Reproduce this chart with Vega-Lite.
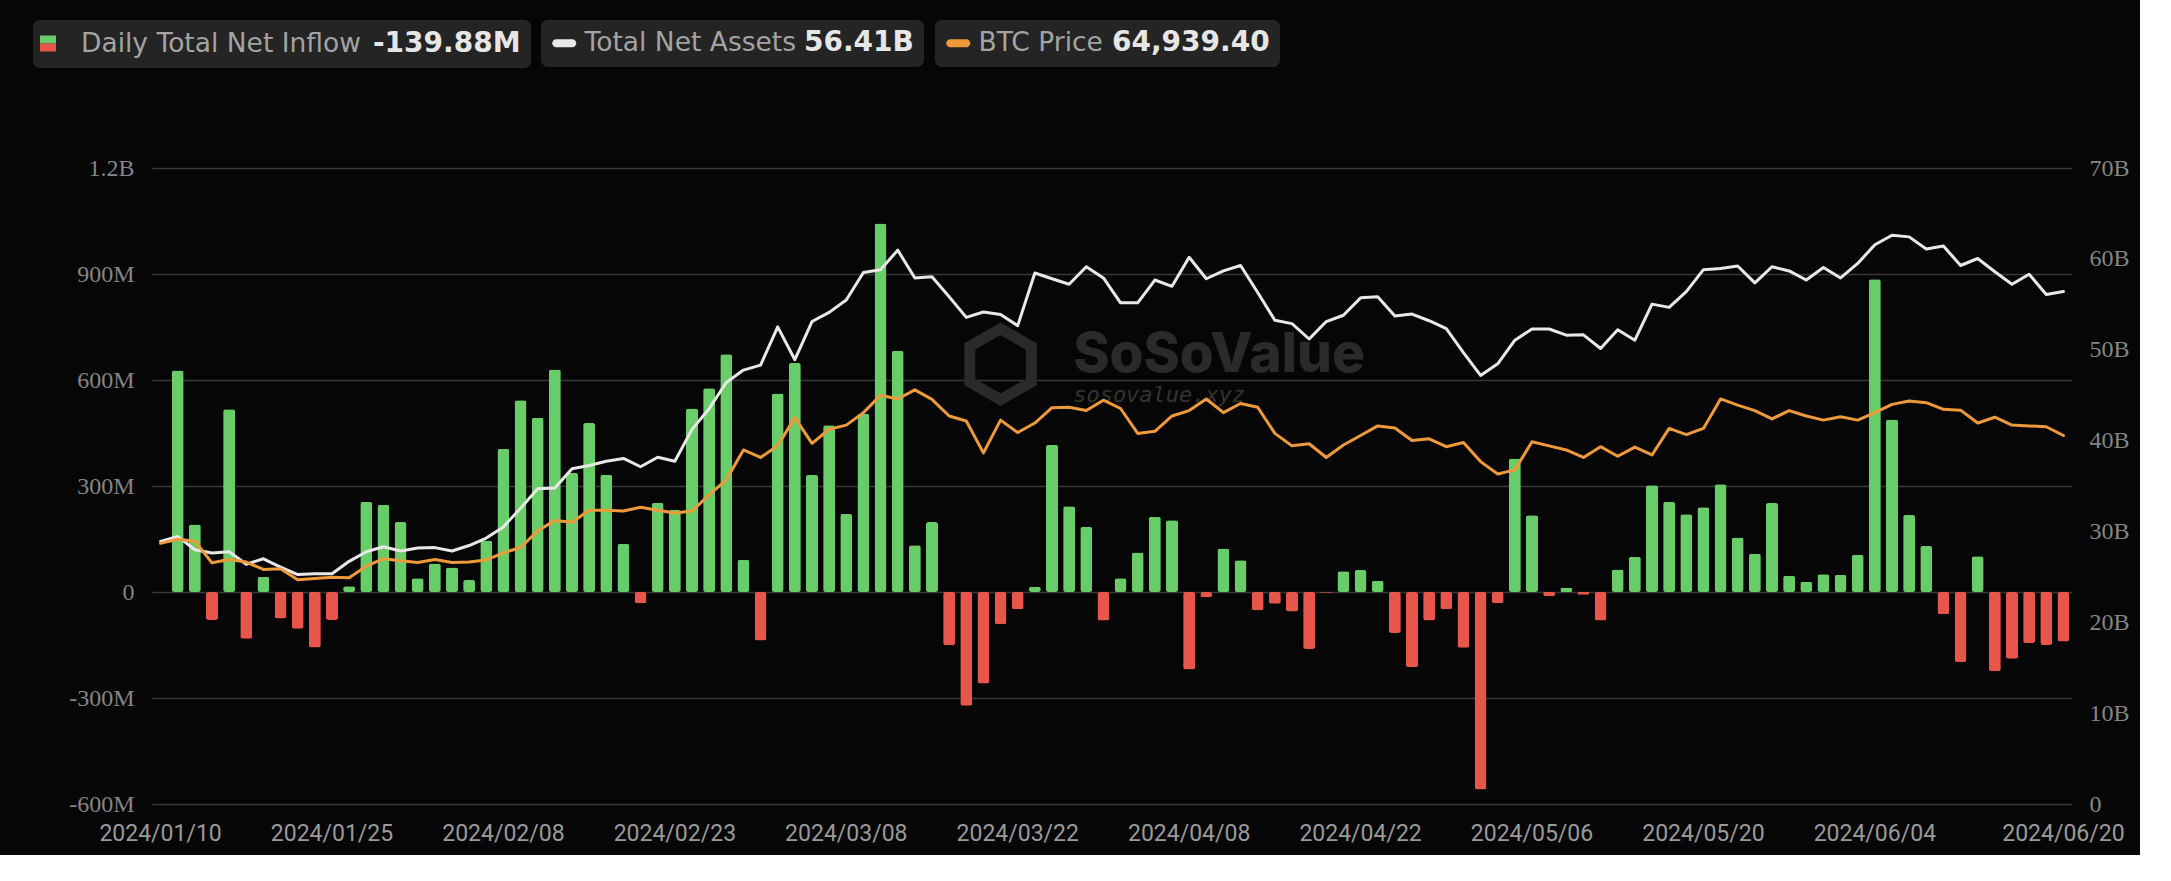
{
  "$schema": "https://vega.github.io/schema/vega-lite/v6.json",
  "width": 1920,
  "height": 636,
  "autosize": {"type": "pad"},
  "padding": {"left": 33, "top": 20, "right": 10, "bottom": 10},
  "background": "#060606",
  "config": {
    "view": {"stroke": null},
    "axis": {"domain": false, "ticks": false, "tickSize": 0, "title": null}
  },
  "data": {
    "values": [
      {"d": "2024/01/10", "flow": null, "tna": 28.90, "btc": 46604},
      {"d": "2024/01/11", "flow": 627, "tna": 29.45, "btc": 47309},
      {"d": "2024/01/12", "flow": 191, "tna": 27.99, "btc": 46957},
      {"d": "2024/01/16", "flow": -79, "tna": 27.62, "btc": 43289},
      {"d": "2024/01/17", "flow": 517, "tna": 27.76, "btc": 43854},
      {"d": "2024/01/18", "flow": -132, "tna": 26.39, "btc": 43430},
      {"d": "2024/01/19", "flow": 43, "tna": 26.99, "btc": 42161},
      {"d": "2024/01/22", "flow": -75, "tna": 26.07, "btc": 42302},
      {"d": "2024/01/23", "flow": -104, "tna": 25.25, "btc": 40398},
      {"d": "2024/01/24", "flow": -157, "tna": 25.34, "btc": 40610},
      {"d": "2024/01/25", "flow": -79, "tna": 25.34, "btc": 40821},
      {"d": "2024/01/26", "flow": 16, "tna": 26.71, "btc": 40751},
      {"d": "2024/01/29", "flow": 255, "tna": 27.76, "btc": 42725},
      {"d": "2024/01/30", "flow": 247, "tna": 28.31, "btc": 43995},
      {"d": "2024/01/31", "flow": 198, "tna": 27.85, "btc": 43642},
      {"d": "2024/02/01", "flow": 39, "tna": 28.17, "btc": 43360},
      {"d": "2024/02/02", "flow": 81, "tna": 28.22, "btc": 43854},
      {"d": "2024/02/05", "flow": 69, "tna": 27.85, "btc": 43360},
      {"d": "2024/02/06", "flow": 34, "tna": 28.45, "btc": 43430},
      {"d": "2024/02/07", "flow": 146, "tna": 29.27, "btc": 43783},
      {"d": "2024/02/08", "flow": 405, "tna": 30.50, "btc": 44982},
      {"d": "2024/02/09", "flow": 543, "tna": 32.56, "btc": 45899},
      {"d": "2024/02/12", "flow": 493, "tna": 34.70, "btc": 48719},
      {"d": "2024/02/13", "flow": 630, "tna": 34.79, "btc": 50482},
      {"d": "2024/02/14", "flow": 337, "tna": 36.89, "btc": 50200},
      {"d": "2024/02/15", "flow": 478, "tna": 37.26, "btc": 52245},
      {"d": "2024/02/16", "flow": 332, "tna": 37.72, "btc": 52245},
      {"d": "2024/02/20", "flow": 136, "tna": 38.03, "btc": 52104},
      {"d": "2024/02/21", "flow": -32, "tna": 37.12, "btc": 52739},
      {"d": "2024/02/22", "flow": 252, "tna": 38.17, "btc": 52245},
      {"d": "2024/02/23", "flow": 232, "tna": 37.72, "btc": 51752},
      {"d": "2024/02/26", "flow": 519, "tna": 41.23, "btc": 52104},
      {"d": "2024/02/27", "flow": 577, "tna": 43.51, "btc": 54855},
      {"d": "2024/02/28", "flow": 673, "tna": 46.39, "btc": 57393},
      {"d": "2024/02/29", "flow": 91, "tna": 47.76, "btc": 62471},
      {"d": "2024/03/01", "flow": -137, "tna": 48.31, "btc": 61201},
      {"d": "2024/03/04", "flow": 562, "tna": 52.51, "btc": 63176},
      {"d": "2024/03/05", "flow": 648, "tna": 48.90, "btc": 67971},
      {"d": "2024/03/06", "flow": 332, "tna": 53.10, "btc": 63599},
      {"d": "2024/03/07", "flow": 472, "tna": 54.11, "btc": 65997},
      {"d": "2024/03/08", "flow": 221, "tna": 55.48, "btc": 66702},
      {"d": "2024/03/11", "flow": 504, "tna": 58.49, "btc": 68818},
      {"d": "2024/03/12", "flow": 1043, "tna": 58.81, "btc": 71779},
      {"d": "2024/03/13", "flow": 683, "tna": 60.96, "btc": 71145},
      {"d": "2024/03/14", "flow": 132, "tna": 57.90, "btc": 72696},
      {"d": "2024/03/15", "flow": 198, "tna": 58.03, "btc": 71074},
      {"d": "2024/03/18", "flow": -151, "tna": 55.84, "btc": 68253},
      {"d": "2024/03/19", "flow": -322, "tna": 53.56, "btc": 67407},
      {"d": "2024/03/20", "flow": -259, "tna": 54.15, "btc": 61977},
      {"d": "2024/03/21", "flow": -91, "tna": 53.88, "btc": 67548},
      {"d": "2024/03/22", "flow": -49, "tna": 52.65, "btc": 65433},
      {"d": "2024/03/25", "flow": 15, "tna": 58.44, "btc": 67055},
      {"d": "2024/03/26", "flow": 417, "tna": 57.81, "btc": 69664},
      {"d": "2024/03/27", "flow": 243, "tna": 57.21, "btc": 69734},
      {"d": "2024/03/28", "flow": 184, "tna": 59.13, "btc": 69170},
      {"d": "2024/04/01", "flow": -81, "tna": 57.90, "btc": 70933},
      {"d": "2024/04/02", "flow": 39, "tna": 55.16, "btc": 69523},
      {"d": "2024/04/03", "flow": 112, "tna": 55.16, "btc": 65292},
      {"d": "2024/04/04", "flow": 213, "tna": 57.67, "btc": 65644},
      {"d": "2024/04/05", "flow": 203, "tna": 56.98, "btc": 68253},
      {"d": "2024/04/08", "flow": -219, "tna": 60.18, "btc": 69170},
      {"d": "2024/04/09", "flow": -15, "tna": 57.81, "btc": 71145},
      {"d": "2024/04/10", "flow": 123, "tna": 58.67, "btc": 68818},
      {"d": "2024/04/11", "flow": 90, "tna": 59.27, "btc": 70369},
      {"d": "2024/04/12", "flow": -52, "tna": 56.30, "btc": 69734},
      {"d": "2024/04/15", "flow": -33, "tna": 53.24, "btc": 65292},
      {"d": "2024/04/16", "flow": -55, "tna": 52.87, "btc": 63176},
      {"d": "2024/04/17", "flow": -161, "tna": 51.18, "btc": 63529},
      {"d": "2024/04/18", "flow": -2, "tna": 53.10, "btc": 61201},
      {"d": "2024/04/19", "flow": 59, "tna": 53.79, "btc": 63317},
      {"d": "2024/04/22", "flow": 62, "tna": 55.71, "btc": 64939},
      {"d": "2024/04/23", "flow": 32, "tna": 55.84, "btc": 66561},
      {"d": "2024/04/24", "flow": -116, "tna": 53.70, "btc": 66208},
      {"d": "2024/04/25", "flow": -213, "tna": 53.92, "btc": 64093},
      {"d": "2024/04/26", "flow": -81, "tna": 53.19, "btc": 64375},
      {"d": "2024/04/29", "flow": -49, "tna": 52.33, "btc": 63035},
      {"d": "2024/04/30", "flow": -158, "tna": 49.68, "btc": 63740},
      {"d": "2024/05/01", "flow": -559, "tna": 47.17, "btc": 60496},
      {"d": "2024/05/02", "flow": -32, "tna": 48.45, "btc": 58381},
      {"d": "2024/05/03", "flow": 378, "tna": 51.05, "btc": 59086},
      {"d": "2024/05/06", "flow": 217, "tna": 52.28, "btc": 63881},
      {"d": "2024/05/07", "flow": -12, "tna": 52.28, "btc": 63176},
      {"d": "2024/05/08", "flow": 12, "tna": 51.60, "btc": 62471},
      {"d": "2024/05/09", "flow": -8, "tna": 51.64, "btc": 61201},
      {"d": "2024/05/10", "flow": -81, "tna": 50.13, "btc": 63035},
      {"d": "2024/05/13", "flow": 64, "tna": 52.19, "btc": 61413},
      {"d": "2024/05/14", "flow": 100, "tna": 51.05, "btc": 62964},
      {"d": "2024/05/15", "flow": 302, "tna": 55.02, "btc": 61625},
      {"d": "2024/05/16", "flow": 255, "tna": 54.66, "btc": 66138},
      {"d": "2024/05/17", "flow": 220, "tna": 56.39, "btc": 65080},
      {"d": "2024/05/20", "flow": 240, "tna": 58.81, "btc": 66138},
      {"d": "2024/05/21", "flow": 305, "tna": 58.95, "btc": 71145},
      {"d": "2024/05/22", "flow": 154, "tna": 59.22, "btc": 70087},
      {"d": "2024/05/23", "flow": 108, "tna": 57.35, "btc": 69170},
      {"d": "2024/05/24", "flow": 252, "tna": 59.13, "btc": 67760},
      {"d": "2024/05/28", "flow": 46, "tna": 58.67, "btc": 69170},
      {"d": "2024/05/29", "flow": 29, "tna": 57.67, "btc": 68253},
      {"d": "2024/05/30", "flow": 50, "tna": 59.04, "btc": 67548},
      {"d": "2024/05/31", "flow": 49, "tna": 57.90, "btc": 68112},
      {"d": "2024/06/03", "flow": 105, "tna": 59.50, "btc": 67548},
      {"d": "2024/06/04", "flow": 885, "tna": 61.55, "btc": 68818},
      {"d": "2024/06/05", "flow": 488, "tna": 62.60, "btc": 70228},
      {"d": "2024/06/06", "flow": 218, "tna": 62.42, "btc": 70792},
      {"d": "2024/06/07", "flow": 130, "tna": 61.09, "btc": 70510},
      {"d": "2024/06/10", "flow": -63, "tna": 61.41, "btc": 69382},
      {"d": "2024/06/11", "flow": -198, "tna": 59.27, "btc": 69241},
      {"d": "2024/06/12", "flow": 101, "tna": 60.04, "btc": 67055},
      {"d": "2024/06/13", "flow": -224, "tna": 58.58, "btc": 68042},
      {"d": "2024/06/14", "flow": -189, "tna": 57.21, "btc": 66702},
      {"d": "2024/06/17", "flow": -144, "tna": 58.31, "btc": 66561},
      {"d": "2024/06/18", "flow": -150, "tna": 56.07, "btc": 66420},
      {"d": "2024/06/20", "flow": -139.88, "tna": 56.41, "btc": 64939.4}
    ]
  },
  "encoding": {
    "x": {
      "field": "d",
      "type": "ordinal",
      "scale": {"paddingInner": 0.3, "paddingOuter": 0.15},
      "axis": {
        "values": ["2024/01/10", "2024/01/25", "2024/02/08", "2024/02/23", "2024/03/08", "2024/03/22", "2024/04/08", "2024/04/22", "2024/05/06", "2024/05/20", "2024/06/04", "2024/06/20"],
        "labelAngle": 0,
        "labelFont": "Roboto",
        "labelFontSize": 23,
        "labelColor": "#9a9a9a",
        "labelPadding": 36,
        "labelBaseline": "alphabetic",
        "labelOverlap": false,
        "labelFlush": false,
        "grid": false,
        "title": null
      }
    }
  },
  "layer": [
    {
      "mark": {"type": "bar", "cornerRadius": 2.5},
      "encoding": {
        "y": {
          "field": "flow",
          "type": "quantitative",
          "scale": {"domain": [-600, 1200], "nice": false},
          "axis": {
            "orient": "left",
            "values": [-600, -300, 0, 300, 600, 900, 1200],
            "labelExpr": "datum.value >= 1000 ? format(datum.value / 1000, '.1f') + 'B' : (datum.value == 0 ? '0' : datum.value + 'M')",
            "grid": true,
            "gridColor": "#383838",
            "gridWidth": 1.5,
            "labelFont": "Liberation Serif",
            "labelFontSize": 24,
            "labelColor": "#858585",
            "labelPadding": 18,
            "title": null
          }
        },
        "color": {
          "datum": "Daily Total Net Inflow",
          "condition": {"test": "datum.flow < 0", "value": "#e8554a"},
          "scale": {"range": ["#68cc68"]},
          "legend": {
            "orient": "none",
            "legendX": -119,
            "legendY": -148,
            "zindex": 1,
            "fillColor": "#242424",
            "cornerRadius": 7,
            "padding": 10,
            "symbolType": "M-1.222,-0.593H-0.037V0H-1.222Z",
            "symbolSize": 729,
            "symbolStrokeWidth": 0,
            "labelOffset": 11,
            "labelFont": "DejaVu Sans",
            "labelFontSize": 26.5,
            "labelColor": "#a3a3a3",
            "labelBaseline": "middle",
            "labelLimit": 0,
            "title": "-139.88M",
            "titleOrient": "right",
            "titleFont": "DejaVu Sans",
            "titleFontSize": 28,
            "titleFontWeight": "bold",
            "titleColor": "#e6e6e6",
            "titlePadding": 12,
            "titleAnchor": "middle",
            "titleBaseline": "middle",
            "titleLimit": 0
          }
        },
        "opacity": {
          "datum": "outflow",
          "type": "ordinal",
          "scale": {"range": [1]},
          "legend": {
            "orient": "none",
            "legendX": -119,
            "legendY": -148,
            "zindex": 2,
            "padding": 10,
            "symbolType": "M-1.222,0H-0.037V0.593H-1.222Z",
            "symbolSize": 729,
            "symbolStrokeWidth": 0,
            "labelOffset": 11,
            "labelExpr": "' '",
            "labelFont": "DejaVu Sans",
            "labelFontSize": 26.5,
            "labelBaseline": "middle",
            "title": null
          }
        }
      }
    },
    {
      "layer": [
        {
          "data": {"values": [{"t": "SoSoValue"}]},
          "mark": {"type": "text", "font": "Inter", "fontSize": 55, "fontWeight": 800, "color": "#2a2a2a", "align": "left", "baseline": "alphabetic", "dx": 4},
          "encoding": {
            "x": {"datum": "2024/03/27", "type": "ordinal"},
            "y": {"datum": 47.57, "type": "quantitative"},
            "text": {"field": "t"}
          }
        },
        {
          "data": {"values": [{"t": "sosovalue.xyz"}]},
          "mark": {"type": "text", "font": "DejaVu Sans Mono", "fontSize": 22, "fontStyle": "italic", "color": "#333333", "align": "left", "baseline": "alphabetic", "dx": 4},
          "encoding": {
            "x": {"datum": "2024/03/27", "type": "ordinal"},
            "y": {"datum": 44.25, "type": "quantitative"},
            "text": {"field": "t"}
          }
        },
        {
          "data": {"values": [{"t": "logo"}]},
          "mark": {"type": "point", "shape": "M0,-1L0.866,-0.5L0.866,0.5L0,1L-0.866,0.5L-0.866,-0.5Z", "size": 5041, "filled": false, "stroke": "#2a2a2a", "strokeWidth": 11, "opacity": 1},
          "encoding": {
            "x": {"datum": "2024/03/21", "type": "ordinal"},
            "y": {"datum": 48.4, "type": "quantitative"}
          }
        },
        {
          "mark": {"type": "line", "strokeWidth": 3, "strokeJoin": "round", "strokeCap": "round"},
          "encoding": {
            "y": {
              "field": "tna",
              "type": "quantitative",
              "scale": {"domain": [0, 70], "nice": false},
              "axis": {
                "orient": "right",
                "values": [0, 10, 20, 30, 40, 50, 60, 70],
                "labelExpr": "datum.value == 0 ? '0' : datum.value + 'B'",
                "grid": false,
                "labelFont": "Liberation Serif",
                "labelFontSize": 24,
                "labelColor": "#858585",
                "labelPadding": 17,
                "title": null
              }
            },
            "color": {
              "datum": "Total Net Assets",
              "scale": {"range": ["#e8e8e8"]},
              "legend": {
                "orient": "none",
                "legendX": 389,
                "legendY": -148,
                "fillColor": "#242424",
                "cornerRadius": 7,
                "padding": 10,
                "symbolType": "M-0.667,-0.333H0.667A0.333,0.333 0 0 1 0.667,0.333H-0.667A0.333,0.333 0 0 1 -0.667,-0.333Z",
                "symbolSize": 576,
                "labelOffset": 7,
                "labelFont": "DejaVu Sans",
                "labelFontSize": 26.5,
                "labelColor": "#a3a3a3",
                "labelBaseline": "middle",
                "labelLimit": 0,
                "title": "56.41B",
                "titleOrient": "right",
                "titleFont": "DejaVu Sans",
                "titleFontSize": 28,
                "titleFontWeight": "bold",
                "titleColor": "#e6e6e6",
                "titlePadding": 8,
                "titleAnchor": "middle",
                "titleBaseline": "middle",
                "titleLimit": 0,
                "encode": {
                  "symbols": {
                    "update": {
                      "fill": {"value": "#e8e8e8"},
                      "strokeWidth": {"value": 0}
                    }
                  }
                }
              }
            }
          }
        }
      ]
    },
    {
      "mark": {"type": "line", "strokeWidth": 3, "strokeJoin": "round", "strokeCap": "round"},
      "encoding": {
        "y": {
          "field": "btc",
          "type": "quantitative",
          "scale": {"domain": [2300, 110400], "nice": false, "zero": false},
          "axis": null
        },
        "color": {
          "datum": "BTC Price",
          "scale": {"range": ["#ee9a3a"]},
          "legend": {
            "orient": "none",
            "legendX": 783,
            "legendY": -148,
            "fillColor": "#242424",
            "cornerRadius": 7,
            "padding": 10,
            "symbolType": "M-0.667,-0.333H0.667A0.333,0.333 0 0 1 0.667,0.333H-0.667A0.333,0.333 0 0 1 -0.667,-0.333Z",
            "symbolSize": 576,
            "labelOffset": 7,
            "labelFont": "DejaVu Sans",
            "labelFontSize": 26.5,
            "labelColor": "#a3a3a3",
            "labelBaseline": "middle",
            "labelLimit": 0,
            "title": "64,939.40",
            "titleOrient": "right",
            "titleFont": "DejaVu Sans",
            "titleFontSize": 28,
            "titleFontWeight": "bold",
            "titleColor": "#e6e6e6",
            "titlePadding": 9,
            "titleAnchor": "middle",
            "titleBaseline": "middle",
            "titleLimit": 0,
            "encode": {
              "symbols": {
                "update": {
                  "fill": {"value": "#ee9a3a"},
                  "strokeWidth": {"value": 0}
                }
              }
            }
          }
        }
      }
    }
  ],
  "resolve": {
    "scale": {"y": "independent", "color": "independent"},
    "legend": {"color": "independent"}
  }
}
